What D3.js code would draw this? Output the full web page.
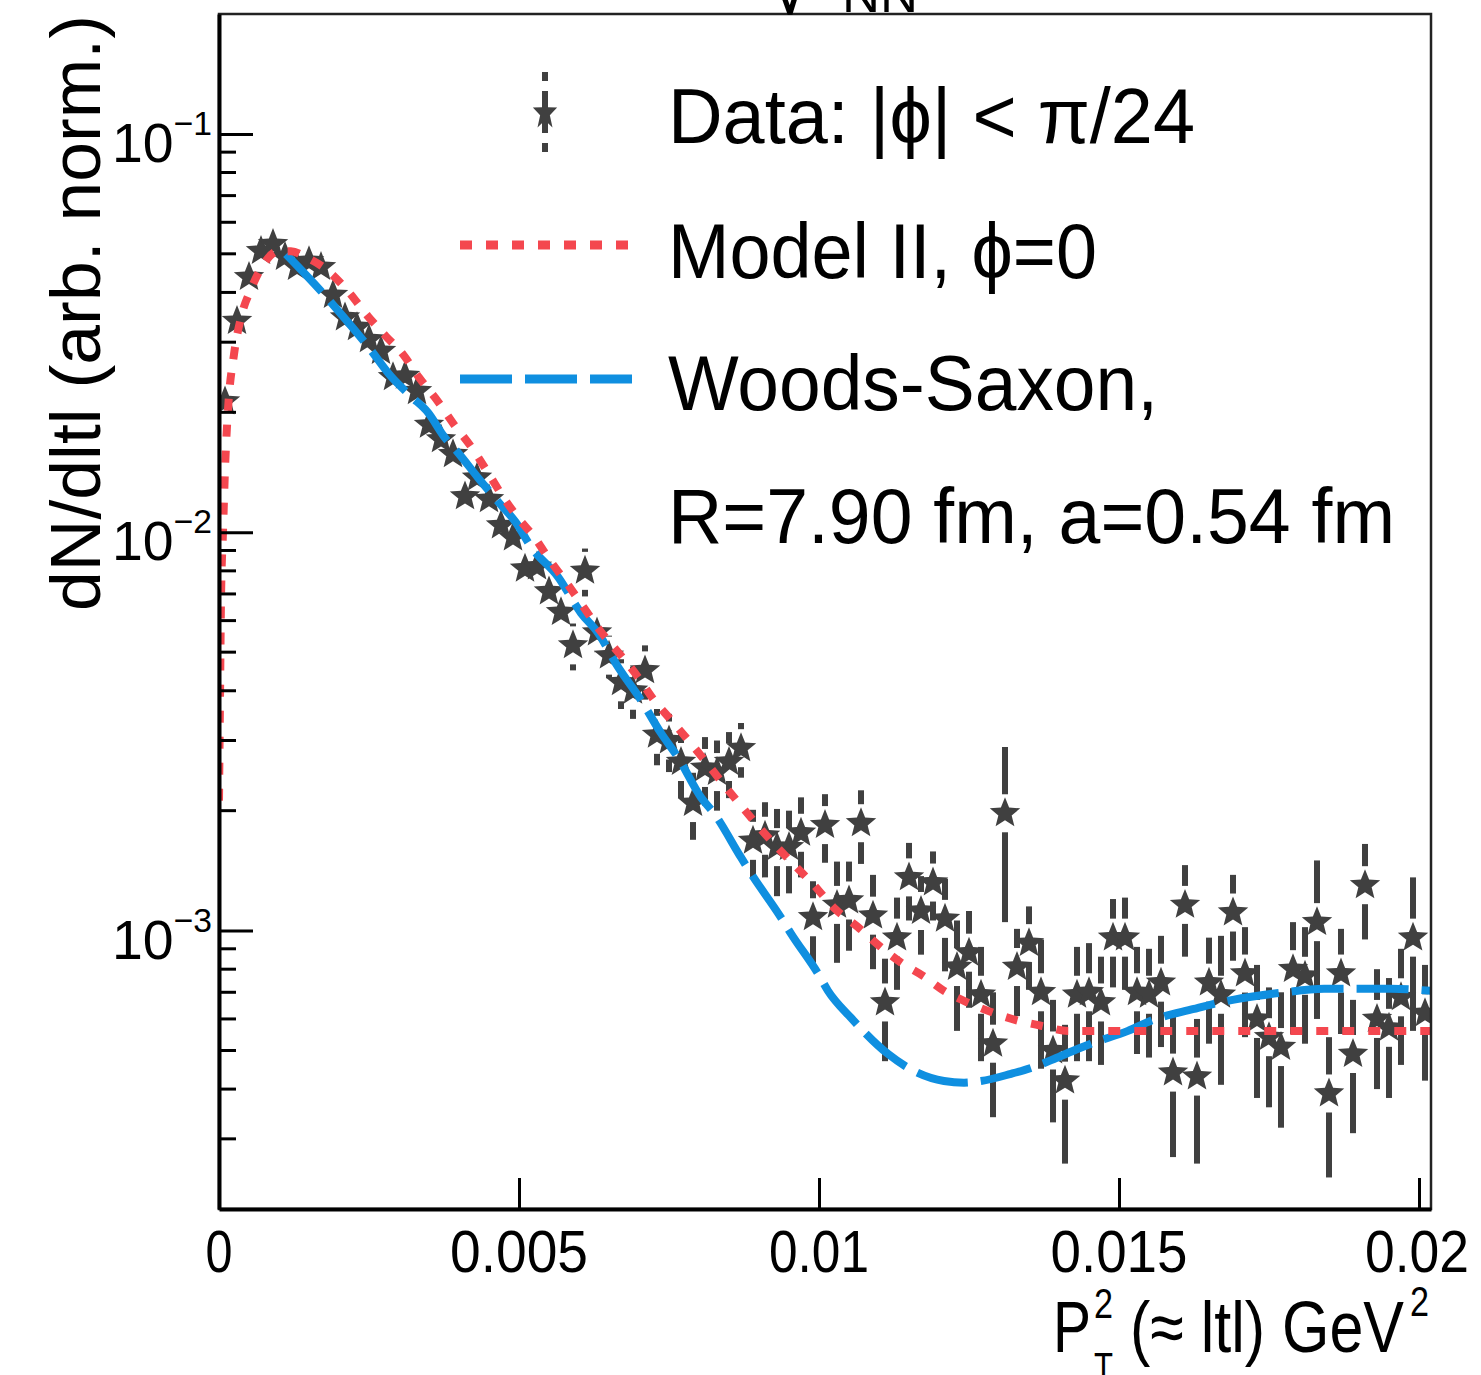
<!DOCTYPE html>
<html>
<head>
<meta charset="utf-8">
<script src="https://cdn.jsdelivr.net/npm/d3@7"></script>
<style>
  body { margin: 0; background: #fff; }
  text { font-family: "Liberation Sans", Arial, Helvetica, sans-serif; fill: #000; }
</style>
</head>
<body>
<div id="chart"></div>
<script>
// bin centers of |t| (GeV^2)
const binCenters = [
  0.0001,0.0003,0.0005,0.0007,0.0009,0.0011,0.0013,0.0015,0.0017,0.0019,
  0.0021,0.0023,0.0025,0.0027,0.0029,0.0031,0.0033,0.0035,0.0037,0.0039,
  0.0041,0.0043,0.0045,0.0047,0.0049,0.0051,0.0053,0.0055,0.0057,0.0059,
  0.0061,0.0063,0.0065,0.0067,0.0069,0.0071,0.0073,0.0075,0.0077,0.0079,
  0.0081,0.0083,0.0085,0.0087,0.0089,0.0091,0.0093,0.0095,0.0097,0.0099,
  0.0101,0.0103,0.0105,0.0107,0.0109,0.0111,0.0113,0.0115,0.0117,0.0119,
  0.0121,0.0123,0.0125,0.0127,0.0129,0.0131,0.0133,0.0135,0.0137,0.0139,
  0.0141,0.0143,0.0145,0.0147,0.0149,0.0151,0.0153,0.0155,0.0157,0.0159,
  0.0161,0.0163,0.0165,0.0167,0.0169,0.0171,0.0173,0.0175,0.0177,0.0179,
  0.0181,0.0183,0.0185,0.0187,0.0189,0.0191,0.0193,0.0195,0.0197,0.0199,
  0.0201
];

const dataValues = [
  0.0213,0.0339,0.0437,0.0508,0.0529,0.0491,0.0463,0.0479,0.0463,0.0394,
  0.0346,0.0327,0.0305,0.0285,0.0245,0.0247,0.0226,0.0186,0.0171,0.0157,
  0.0123,0.0137,0.0121,0.0104,0.0097,0.0081,0.0082,0.0071,0.0063,0.0052,
  0.0080,0.0056,0.0049,0.0042,0.0040,0.0045,0.0031,0.0030,0.00265,0.00209,
  0.00256,0.00250,0.00265,0.00287,0.00168,0.00173,0.00162,0.00162,0.00176,0.00108,
  0.00184,0.00116,0.00119,0.00186,0.00109,0.00066,0.00096,0.00136,0.00112,0.00132,
  0.00107,0.00081,0.00088,0.00069,0.00052,0.00197,0.00081,0.00093,0.00070,0.00050,
  0.00042,0.00069,0.00070,0.00066,0.00096,0.00096,0.00070,0.00069,0.00074,0.00044,
  0.00116,0.00043,0.00074,0.00069,0.00111,0.00078,0.00060,0.00054,0.00051,0.00080,
  0.00077,0.00105,0.00039,0.00078,0.00049,0.00130,0.00060,0.00057,0.00068,0.00096,
  0.00062
];

const dataErrors = [
  0.0006,0.0007,0.0008,0.0009,0.0009,0.0009,0.0009,0.0009,0.0009,0.0008,
  0.0008,0.0008,0.0008,0.0008,0.0007,0.0007,0.0007,0.0007,0.0007,0.0006,
  0.0006,0.0006,0.0006,0.0006,0.0006,0.0006,0.0006,0.0006,0.0006,0.0007,
  0.0011,0.0006,0.0006,0.0006,0.0006,0.0007,0.0005,0.0005,0.0005,0.0004,
  0.0005,0.0005,0.0005,0.00045,0.00033,0.00037,0.0004,0.00038,0.0004,0.00025,
  0.00036,0.00033,0.0003,0.00039,0.00029,0.00019,0.00025,0.0003,0.00025,0.00026,
  0.00028,0.00025,0.00024,0.00022,0.00018,0.00092,0.0002,0.00022,0.00025,0.00017,
  0.00016,0.00022,0.00023,0.0002,0.00024,0.00025,0.00021,0.00021,0.00023,0.00017,
  0.0003,0.00017,0.00022,0.00028,0.00027,0.00024,0.00022,0.00018,0.00019,0.00025,
  0.00025,0.00045,0.00015,0.00023,0.00018,0.00035,0.0002,0.00019,0.00022,0.0004,
  0.0002
];

// Model II, phi = 0 (red dotted)
const modelT = [
  0.0, 0.0000167, 0.0000333, 0.0000667, 0.0001, 0.00015, 0.00025, 0.000367, 0.000533, 0.000733,
  0.000983, 0.0012, 0.00145, 0.001783, 0.00215, 0.002483, 0.002783, 0.003067, 0.003333, 0.00365,
  0.003917, 0.0042, 0.004483, 0.004733, 0.004983, 0.00525, 0.005533, 0.005817, 0.006083, 0.006367,
  0.006667, 0.006983, 0.00725, 0.007533, 0.007817, 0.008117, 0.008417, 0.0087, 0.009, 0.009317,
  0.00965, 0.009917, 0.01025, 0.01065, 0.011, 0.011367, 0.011733, 0.012083, 0.012483, 0.0129,
  0.013317, 0.0137, 0.01415, 0.0147, 0.016367, 0.018033, 0.0202
];
const modelVal = [
  0.00212, 0.00379, 0.00676, 0.01003, 0.01437, 0.02033, 0.02796, 0.03464, 0.04074, 0.04682,
  0.05077, 0.05077, 0.04905, 0.04575, 0.04027, 0.03484, 0.03103, 0.02796, 0.02447, 0.02129,
  0.01864, 0.01641, 0.01411, 0.01228, 0.01088, 0.00974, 0.00843, 0.00738, 0.00646, 0.00562,
  0.00497, 0.00433, 0.00379, 0.00338, 0.00301, 0.00265, 0.00232, 0.00206, 0.00182, 0.00161,
  0.00143, 0.00130, 0.00114, 0.00102, 0.000917, 0.000831, 0.000770, 0.000706, 0.000659, 0.000622,
  0.000594, 0.000577, 0.000560, 0.000560, 0.000560, 0.000560, 0.000560
];

// Woods-Saxon R=7.90 fm, a=0.54 fm (blue dashed)
const wsT = [
  0.001117, 0.0017, 0.002067, 0.002483, 0.002867, 0.0032, 0.003483, 0.00375, 0.003983, 0.004317,
  0.004667, 0.00495, 0.0052, 0.00565, 0.006033, 0.006317, 0.00665, 0.007033, 0.007367, 0.00765,
  0.008033, 0.00825, 0.0087, 0.008867, 0.009367, 0.009533, 0.009983, 0.01015, 0.010533, 0.01115,
  0.011583, 0.012083, 0.012417, 0.0127, 0.0132, 0.013533, 0.013917, 0.014317, 0.014533, 0.01515,
  0.015533, 0.01625, 0.016583, 0.017317, 0.0177, 0.018417, 0.0187, 0.019533, 0.0202
];
const wsVal = [
  0.0499, 0.0403, 0.03484, 0.02929, 0.02461, 0.02193, 0.01998, 0.01739, 0.01585, 0.01371,
  0.01186, 0.01057, 0.00919, 0.00773, 0.00627, 0.00559, 0.00459, 0.00379, 0.00313, 0.00272,
  0.00216, 0.00197, 0.001526, 0.001391, 0.001078, 0.000983, 0.000780, 0.000706, 0.000604, 0.000490,
  0.000444, 0.000419, 0.000415, 0.000419, 0.000437, 0.000452, 0.000476, 0.000505, 0.000520, 0.000560,
  0.000594, 0.000636, 0.000655, 0.000686, 0.000698, 0.000714, 0.000714, 0.000714, 0.000706
];

const xTicks = [0, 0.005, 0.01, 0.015, 0.02];
const xTickLabels = ["0", "0.005", "0.01", "0.015", "0.02"];
const xTickWidths = [27, 138, 100, 137, 104];
const yMajor = [1e-3, 1e-2, 1e-1];
const yMajorExp = ["\u22123", "\u22122", "\u22121"];
const yMinor = [3e-4, 4e-4, 5e-4, 6e-4, 7e-4, 8e-4, 9e-4,
  2e-3, 3e-3, 4e-3, 5e-3, 6e-3, 7e-3, 8e-3, 9e-3,
  2e-2, 3e-2, 4e-2, 5e-2, 6e-2, 7e-2, 8e-2, 9e-2];

const legendLabels = ["Data: |\u03D5| < \u03C0/24", "Model II, \u03D5=0", "Woods-Saxon,", "R=7.90 fm, a=0.54 fm"];
const legendWidths = [527, 429, 490, 727];

const W = 1481, H = 1375;
const plot = { left: 219, right: 1431, top: 14, bottom: 1209 };
const dataCol = "#404040", redCol = "#f4474f", blueCol = "#0f8fe0";

const svg = d3.select("#chart").append("svg")
  .attr("width", W).attr("height", H);

const x = d3.scaleLinear().domain([0, 0.0202]).range([plot.left, plot.right]);
const y = d3.scaleLog().domain([2e-4, 0.2]).range([plot.bottom, plot.top]);

// squeeze a text to a given width (the reference font is narrow)
function fit(sel, w) {
  sel.attr("textLength", w).attr("lengthAdjust", "spacingAndGlyphs");
}

// five-pointed star like ROOT marker 29 (a bit fatter than d3.symbolStar)
function starPath(R, r) {
  const p = [];
  for (let i = 0; i < 10; i++) {
    const a = -Math.PI / 2 + i * Math.PI / 5;
    const rad = i % 2 ? r : R;
    p.push([rad * Math.cos(a), rad * Math.sin(a)]);
  }
  return "M" + p.map(q => q[0].toFixed(2) + "," + q[1].toFixed(2)).join("L") + "Z";
}
const star = starPath(16, 7);

svg.append("clipPath").attr("id", "plotclip")
  .append("rect")
  .attr("x", plot.left).attr("y", plot.top)
  .attr("width", plot.right - plot.left).attr("height", plot.bottom - plot.top);

// Data points: error bars with gap around marker
const gap = 19;
const pts = binCenters.map((t, i) => ({ t, v: dataValues[i], e: dataErrors[i] }));
const dataG = svg.append("g").attr("clip-path", "url(#plotclip)");

pts.forEach(d => {
  const cx = x(d.t), cy = y(d.v);
  const yTop = y(d.v + d.e);
  const yBot = d.v - d.e > 2e-4 ? y(d.v - d.e) : plot.bottom;
  if (cy - yTop > gap) {
    dataG.append("line").attr("x1", cx).attr("x2", cx)
      .attr("y1", yTop).attr("y2", cy - gap)
      .attr("stroke", dataCol).attr("stroke-width", 6);
  }
  if (yBot - cy > gap) {
    dataG.append("line").attr("x1", cx).attr("x2", cx)
      .attr("y1", cy + gap).attr("y2", yBot)
      .attr("stroke", dataCol).attr("stroke-width", 6);
  }
});

dataG.selectAll(".star")
  .data(pts)
  .enter()
  .append("path")
  .attr("class", "star")
  .attr("d", star)
  .attr("transform", d => `translate(${x(d.t)},${y(d.v)})`)
  .attr("fill", dataCol);

// Curves
const line = d3.line()
  .x(d => x(d[0]))
  .y(d => y(d[1]))
  .curve(d3.curveMonotoneX);

const curveG = svg.append("g").attr("clip-path", "url(#plotclip)");

curveG.append("path")
  .attr("d", line(wsT.map((t, i) => [t, wsVal[i]])))
  .attr("fill", "none")
  .attr("stroke", blueCol)
  .attr("stroke-width", 8)
  .attr("stroke-dasharray", "52 13");

curveG.append("path")
  .attr("d", line(modelT.map((t, i) => [t, modelVal[i]])))
  .attr("fill", "none")
  .attr("stroke", redCol)
  .attr("stroke-width", 8)
  .attr("stroke-dasharray", "12 14");

// Frame
svg.append("rect")
  .attr("x", plot.left).attr("y", plot.top)
  .attr("width", plot.right - plot.left).attr("height", plot.bottom - plot.top)
  .attr("fill", "none").attr("stroke", "#222").attr("stroke-width", 2.5);

// X axis
const xAxis = svg.append("g")
  .attr("transform", `translate(0,${plot.bottom})`)
  .call(d3.axisBottom(x).tickValues(xTicks).tickSizeInner(-31).tickSizeOuter(0).tickFormat(""));
xAxis.select(".domain").attr("stroke", "#000").attr("stroke-width", 4);
xAxis.selectAll(".tick line").attr("stroke", "#000").attr("stroke-width", 3);

xTicks.forEach((t, i) => {
  svg.append("text")
    .attr("x", i === xTicks.length - 1 ? x(t) - 2 : x(t)).attr("y", 1272)
    .attr("text-anchor", "middle")
    .attr("font-size", 60)
    .text(xTickLabels[i])
    .call(fit, xTickWidths[i]);
});

// Y axis
const yAxis = svg.append("g")
  .attr("transform", `translate(${plot.left},0)`)
  .call(d3.axisLeft(y).tickValues(yMajor).tickSizeInner(-34).tickSizeOuter(0).tickFormat(""));
yAxis.select(".domain").attr("stroke", "#000").attr("stroke-width", 4);
yAxis.selectAll(".tick line").attr("stroke", "#000").attr("stroke-width", 3);

svg.append("g").selectAll("line")
  .data(yMinor)
  .enter()
  .append("line")
  .attr("x1", plot.left).attr("x2", plot.left + 17)
  .attr("y1", d => y(d)).attr("y2", d => y(d))
  .attr("stroke", "#000").attr("stroke-width", 3);

yMajor.forEach((v, i) => {
  const t = svg.append("text")
    .attr("x", 112).attr("y", y(v) + 28)
    .attr("font-size", 56);
  t.append("tspan").text("10");
  t.append("tspan").attr("font-size", 34).attr("dy", -27).text(yMajorExp[i]);
  fit(t, 100);
});

// Axis titles
svg.append("text")
  .attr("transform", `translate(100,15) rotate(-90)`)
  .attr("text-anchor", "end")
  .attr("font-size", 71)
  .text("dN/dltl (arb. norm.)")
  .call(fit, 596);

svg.append("text").attr("x", 1053).attr("y", 1352).attr("font-size", 72)
  .text("P").call(fit, 38);
svg.append("text").attr("x", 1094).attr("y", 1318).attr("font-size", 42)
  .text("2").call(fit, 19);
svg.append("text").attr("x", 1094).attr("y", 1382).attr("font-size", 42)
  .text("T").call(fit, 19);
svg.append("text").attr("x", 1130).attr("y", 1352).attr("font-size", 72)
  .text("(\u2248 ltl) GeV").call(fit, 274);
svg.append("text").attr("x", 1410).attr("y", 1316).attr("font-size", 42)
  .text("2").call(fit, 19);

// Title (cut off at the top of the picture)
svg.append("text").attr("x", 765).attr("y", 14).attr("font-size", 90)
  .text("\u221A");
svg.append("text").attr("x", 842).attr("y", 12).attr("font-size", 50)
  .text("NN").call(fit, 76);

// Legend
const legX = 668;
const legY = [143, 278, 410, 543];
legendLabels.forEach((s, i) => {
  svg.append("text")
    .attr("x", legX).attr("y", legY[i])
    .attr("font-size", 78)
    .text(s)
    .call(fit, legendWidths[i]);
});

svg.append("line")
  .attr("x1", 545).attr("x2", 545).attr("y1", 72).attr("y2", 152)
  .attr("stroke", dataCol).attr("stroke-width", 6)
  .attr("stroke-dasharray", "9 10 42 10 9");
svg.append("path")
  .attr("d", starPath(15, 6))
  .attr("transform", "translate(545,113) scale(0.85,1.2)")
  .attr("fill", dataCol);

svg.append("line")
  .attr("x1", 460).attr("x2", 630).attr("y1", 245).attr("y2", 245)
  .attr("stroke", redCol).attr("stroke-width", 9)
  .attr("stroke-dasharray", "12 14");

svg.append("line")
  .attr("x1", 460).attr("x2", 632).attr("y1", 379).attr("y2", 379)
  .attr("stroke", blueCol).attr("stroke-width", 9)
  .attr("stroke-dasharray", "52 13");
</script>
</body>
</html>
